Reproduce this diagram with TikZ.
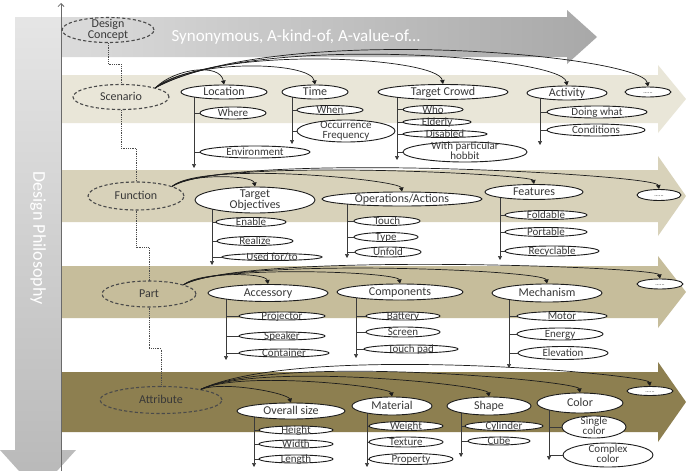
\documentclass[tikz,border=0pt]{standalone}
\usepackage{fontspec}
\setmainfont{Carlito}
\usetikzlibrary{shapes.geometric,arrows.meta}

\definecolor{scenc}{HTML}{E9E6D8}
\definecolor{funcc}{HTML}{D8D2BA}
\definecolor{partc}{HTML}{C6BD9B}
\definecolor{attrc}{HTML}{8D7F50}
\definecolor{dashgray}{HTML}{4A4A4A}
\definecolor{txtgray}{HTML}{383838}
\definecolor{ovline}{HTML}{1C1C1C}
\definecolor{trunkc}{HTML}{3A3A3A}
\definecolor{axisc}{HTML}{6A6A6A}

% zero-size label boxes so that ellipse sizes are set only by minimum width/height
\newcommand{\ovtxt}[1]{\makebox[0pt]{\raisebox{-0.32em}[0pt][0pt]{#1}}}
\newcommand{\ovtwo}[2]{\makebox[0pt]{\raisebox{-0.26em}[0pt][0pt]{\def\arraystretch{0.78}\begin{tabular}{@{}c@{}}#1\\#2\end{tabular}}}}

\pgfdeclarelayer{back}
\pgfdeclarelayer{wires}
\pgfsetlayers{back,wires,main}

\tikzset{
  wh/.style 2 args={minimum width=#1pt, minimum height=#2pt},
  concept/.style={ellipse, draw=dashgray, dash pattern=on 3.2pt off 2.2pt,
    line width=1.1pt, inner sep=0pt, text=txtgray, font=\fontsize{12}{12.5}\selectfont},
  oval/.style={ellipse, draw=ovline, fill=white, line width=0.9pt, inner sep=0pt,
    text=txtgray, font=\fontsize{12}{11.5}\selectfont},
  sub/.style={oval, font=\fontsize{11}{10.5}\selectfont},
  more/.style={oval, font=\fontsize{6}{6}\selectfont},
  link/.style={draw=ovline, line width=0.7pt, -{Triangle[length=4pt,width=4.5pt]}},
  trunk/.style={draw=trunkc, line width=0.6pt, -{Triangle[length=4pt,width=4pt]}},
  twig/.style={draw=trunkc, line width=0.6pt},
  chain/.style={draw=dashgray, densely dotted, line width=0.8pt},
}

\begin{document}
\begin{tikzpicture}[x=1pt,y=1pt]
\useasboundingbox (0,0) rectangle (686,-471);
\clip (0,0) rectangle (686,-471);

% ---------- background arrows ----------
\begin{pgfonlayer}{back}
  \fill[white] (0,0) rectangle (686,-471);
  % design philosophy (vertical)
  \shade[top color=black!10, bottom color=black!28]
    (15,-17) -- (61,-17) -- (61,-450) -- (76,-450) -- (38,-492) -- (0,-450) -- (15,-450) -- cycle;
  % relation arrow
  \shade[left color=black!14, right color=black!34]
    (61,-17) -- (567,-17) -- (567,-10) -- (597,-37) -- (567,-64) -- (567,-57) -- (61,-57) -- cycle;
  % layer bands
  \fill[scenc] (61,-75) -- (658,-75) -- (658,-65) -- (686,-99) -- (658,-133) -- (658,-123) -- (61,-123) -- cycle;
  \fill[funcc] (61,-170) -- (658,-170) -- (658,-156) -- (686,-196) -- (658,-236) -- (658,-222) -- (61,-222) -- cycle;
  \fill[partc] (61,-266) -- (658,-266) -- (658,-256) -- (686,-292) -- (658,-328) -- (658,-318) -- (61,-318) -- cycle;
  \fill[attrc] (61,-372) -- (658,-372) -- (658,-362) -- (686,-402) -- (658,-442) -- (658,-432) -- (61,-432) -- cycle;
\end{pgfonlayer}

\node[text=white, font=\fontsize{17}{17}\selectfont, anchor=west] (syn) at (168,-37) {Synonymous, A-kind-of, A-value-of...};
\node[text=white, rotate=-90, font=\fontsize{18}{18}\selectfont] (phil) at (38,-238) {Design Philosophy};

% axis
\coordinate (axbot) at (61,-471);
\coordinate (axtop) at (61,-3);
\draw[axisc, line width=0.8pt, -{Straight Barb[length=3pt,width=6pt]}] (axbot) -- (axtop);

% ---------- concept layers ----------
\node[concept, wh={92}{25}] (dc)   at (108,-30)  {\ovtwo{Design}{Concept}};
\node[concept, wh={96}{25}] (scen) at (121,-97)  {\ovtxt{Scenario}};
\node[concept, wh={96}{28}] (func) at (136,-196) {\ovtxt{Function}};
\node[concept, wh={94}{26}] (part) at (149,-294) {\ovtxt{Part}};
\node[concept, wh={122}{27}] (attr) at (161,-400) {\ovtxt{Attribute}};

\draw[chain] (dc.south)   -- ++(0,-21) -| (scen.north);
\draw[chain] (scen.south) -- ++(0,-38) -| (func.north);
\draw[chain] (func.south) -- ++(0,-37) -| (part.north);
\draw[chain] (part.south) -- ++(0,-41) -| (attr.north);

% ---------- scenario ----------
\node[oval, wh={86}{14}]  (loc)   at (224,-92)  {\ovtxt{Location}};
\node[sub,  wh={66}{12}]  (where) at (233,-113) {\ovtxt{Where}};
\node[sub,  wh={110}{12}] (env)   at (255,-152) {\ovtxt{Environment}};
\node[oval, wh={66}{14}]  (time)  at (315,-92)  {\ovtxt{Time}};
\node[sub,  wh={66}{9}]   (when)  at (330,-110) {\ovtxt{When}};
\node[sub,  wh={98}{22}]  (occ)   at (346,-131) {\ovtwo{Occurrence}{Frequency}};
\node[oval, wh={130}{15}] (crowd) at (443,-92)  {\ovtxt{Target Crowd}};
\node[sub,  wh={60}{8}]   (who)   at (433,-109.5) {\ovtxt{Who}};
\node[sub,  wh={68}{7}]   (eld)   at (437,-122) {\ovtxt{Elderly}};
\node[sub,  wh={84}{7}]   (dis)   at (445,-134) {\ovtxt{Disabled}};
\node[sub,  wh={124}{20}] (hob)   at (465,-152) {\ovtwo{With particular}{hobbit}};
\node[oval, wh={80}{14}]  (act)   at (567,-93)  {\ovtxt{Activity}};
\node[sub,  wh={100}{12}] (doing) at (597,-112) {\ovtxt{Doing what}};
\node[sub,  wh={98}{12}]  (cond)  at (596,-130) {\ovtxt{Conditions}};
\node[more, wh={46}{10}]  (smore) at (648,-92)  {\ovtxt{......}};

\coordinate (locE)   at (194,-168);
\coordinate (timeE)  at (292,-144);
\coordinate (crowdE) at (397,-160);
\coordinate (actE)   at (540,-145);
\begin{pgfonlayer}{wires}
  \draw[trunk] (loc.center -| locE) -- (locE);
  \draw[trunk] (time.center -| timeE) -- (timeE);
  \draw[trunk] (crowd.center -| crowdE) -- (crowdE);
  \draw[trunk] (act.center -| actE) -- (actE);
\end{pgfonlayer}
\draw[twig] (where.west -| locE) -- (where.west);
\draw[twig] (env.west -| locE) -- (env.west);
\draw[twig] (when.west -| timeE) -- (when.west);
\draw[twig] (occ.west -| timeE) -- (occ.west);
\draw[twig] (who.west -| crowdE) -- (who.west);
\draw[twig] (eld.west -| crowdE) -- (eld.west);
\draw[twig] (dis.west -| crowdE) -- (dis.west);
\draw[twig] (hob.west -| crowdE) -- (hob.west);
\draw[twig] (doing.west -| actE) -- (doing.west);
\draw[twig] (cond.west -| actE) -- (cond.west);

\draw[link] (scen.15) to[out=45, in=100, out distance=28pt, in distance=22pt] (loc.north);
\draw[link] (scen.15) to[out=40, in=100, out distance=45pt, in distance=24pt] (time.north);
\draw[link] (scen.15) to[out=35, in=100, out distance=75pt, in distance=28pt] (crowd.north);
\draw[link] (scen.15) to[out=30, in=100, out distance=110pt, in distance=30pt] (act.north);
\draw[link] (scen.15) to[out=28, in=100, out distance=140pt, in distance=32pt] (smore.north);

% ---------- function ----------
\node[oval, wh={120}{26}] (tobj) at (255,-200) {\ovtwo{Target}{Objectives}};
\node[sub,  wh={70}{9}]   (enab) at (251,-222) {\ovtxt{Enable}};
\node[sub,  wh={76}{9}]   (real) at (255,-241) {\ovtxt{Realize}};
\node[sub,  wh={100}{7}]  (used) at (272,-257) {\ovtxt{Used for/to}};
\node[oval, wh={160}{14}] (ops)  at (402,-199) {\ovtxt{Operations/Actions}};
\node[sub,  wh={66}{9}]   (touch) at (387,-221) {\ovtxt{Touch}};
\node[sub,  wh={64}{9}]   (type) at (386,-237) {\ovtxt{Type}};
\node[sub,  wh={66}{10}]  (unf)  at (388,-252) {\ovtxt{Unfold}};
\node[oval, wh={98}{15}]  (feat) at (534,-192) {\ovtxt{Features}};
\node[sub,  wh={82}{9}]   (fold) at (546,-215) {\ovtxt{Foldable}};
\node[sub,  wh={82}{9}]   (port) at (546,-232) {\ovtxt{Portable}};
\node[sub,  wh={94}{10}]  (recy) at (552,-251) {\ovtxt{Recyclable}};
\node[more, wh={44}{11}]  (fmore) at (659,-195) {\ovtxt{......}};

\coordinate (tobjE) at (212,-265);
\coordinate (opsE)  at (347,-258);
\coordinate (featE) at (500,-260);
\begin{pgfonlayer}{wires}
  \draw[trunk] (tobj.center -| tobjE) -- (tobjE);
  \draw[trunk] (ops.center -| opsE) -- (opsE);
  \draw[trunk] (feat.center -| featE) -- (featE);
\end{pgfonlayer}
\draw[twig] (enab.west -| tobjE) -- (enab.west);
\draw[twig] (real.west -| tobjE) -- (real.west);
\draw[twig] (used.west -| tobjE) -- (used.west);
\draw[twig] (touch.west -| opsE) -- (touch.west);
\draw[twig] (type.west -| opsE) -- (type.west);
\draw[twig] (unf.west -| opsE) -- (unf.west);
\draw[twig] (fold.west -| featE) -- (fold.west);
\draw[twig] (port.west -| featE) -- (port.west);
\draw[twig] (recy.west -| featE) -- (recy.west);

\draw[link] (func.15) to[out=40, in=100, out distance=20pt, in distance=12pt] (tobj.north);
\draw[link] (func.15) to[out=40, in=100, out distance=40pt, in distance=12pt] (ops.north);
\draw[link] (func.15) to[out=35, in=100, out distance=50pt, in distance=10pt] (feat.north);
\draw[link] (func.15) to[out=30, in=100, out distance=70pt, in distance=15pt] (fmore.north);

% ---------- part ----------
\node[oval, wh={120}{17}] (acc)  at (268,-293) {\ovtxt{Accessory}};
\node[sub,  wh={86}{8}]   (proj) at (282,-316) {\ovtxt{Projector}};
\node[sub,  wh={86}{8}]   (spk)  at (282,-336) {\ovtxt{Speaker}};
\node[sub,  wh={90}{8}]   (cont) at (284,-353) {\ovtxt{Container}};
\node[oval, wh={126}{16}] (comp) at (400,-292) {\ovtxt{Components}};
\node[sub,  wh={74}{8}]   (batt) at (403,-316) {\ovtxt{Battery}};
\node[sub,  wh={74}{10}]  (scr)  at (403,-332) {\ovtxt{Screen}};
\node[sub,  wh={94}{8}]   (tpad) at (411,-349) {\ovtxt{Touch pad}};
\node[oval, wh={110}{18}] (mech) at (547,-293) {\ovtxt{Mechanism}};
\node[sub,  wh={90}{9}]   (motor) at (562,-316) {\ovtxt{Motor}};
\node[sub,  wh={86}{12}]  (energy) at (560,-334) {\ovtxt{Energy}};
\node[sub,  wh={90}{13}]  (elev) at (563,-353) {\ovtxt{Elevation}};
\node[more, wh={46}{10}]  (pmore) at (660,-284) {\ovtxt{......}};

\coordinate (accE)  at (226,-360);
\coordinate (compE) at (356,-358);
\coordinate (mechE) at (509,-368);
\begin{pgfonlayer}{wires}
  \draw[trunk] (acc.center -| accE) -- (accE);
  \draw[trunk] (comp.center -| compE) -- (compE);
  \draw[trunk] (mech.center -| mechE) -- (mechE);
\end{pgfonlayer}
\draw[twig] (proj.west -| accE) -- (proj.west);
\draw[twig] (spk.west -| accE) -- (spk.west);
\draw[twig] (cont.west -| accE) -- (cont.west);
\draw[twig] (batt.west -| compE) -- (batt.west);
\draw[twig] (scr.west -| compE) -- (scr.west);
\draw[twig] (tpad.west -| compE) -- (tpad.west);
\draw[twig] (motor.west -| mechE) -- (motor.west);
\draw[twig] (energy.west -| mechE) -- (energy.west);
\draw[twig] (elev.west -| mechE) -- (elev.west);

\draw[link] (part.15) to[out=40, in=100, out distance=20pt, in distance=12pt] (acc.north);
\draw[link] (part.15) to[out=35, in=100, out distance=35pt, in distance=12pt] (comp.north);
\draw[link] (part.15) to[out=30, in=100, out distance=55pt, in distance=14pt] (mech.north);
\draw[link] (part.15) to[out=28, in=100, out distance=70pt, in distance=12pt] (pmore.north);

% ---------- attribute ----------
\node[oval, wh={108}{16}] (size) at (291,-411) {\ovtxt{Overall size}};
\node[sub,  wh={74}{8}]   (hgt)  at (296,-430) {\ovtxt{Height}};
\node[sub,  wh={74}{8}]   (wid)  at (296,-444) {\ovtxt{Width}};
\node[sub,  wh={74}{8}]   (len)  at (296,-459) {\ovtxt{Length}};
\node[oval, wh={80}{18}]  (mat)  at (392,-406) {\ovtxt{Material}};
\node[sub,  wh={74}{9}]   (wgt)  at (406,-426) {\ovtxt{Weight}};
\node[sub,  wh={74}{10}]  (tex)  at (406,-442) {\ovtxt{Texture}};
\node[sub,  wh={84}{11}]  (prop) at (411,-459) {\ovtxt{Property}};
\node[oval, wh={84}{18}]  (shp)  at (489,-406) {\ovtxt{Shape}};
\node[sub,  wh={78}{9}]   (cyl)  at (504,-426) {\ovtxt{Cylinder}};
\node[sub,  wh={62}{8}]   (cube) at (499,-441) {\ovtxt{Cube}};
\node[oval, wh={86}{20}]  (col)  at (580,-403) {\ovtxt{Color}};
\node[sub,  wh={64}{22}]  (single) at (594,-427) {\ovtwo{Single}{color}};
\node[sub,  wh={90}{24}]  (complex) at (608,-455) {\ovtwo{Complex}{color}};
\node[more, wh={46}{9}]   (amore) at (650,-391) {\ovtxt{......}};

\coordinate (sizeE) at (254,-467);
\coordinate (matE)  at (367,-467);
\coordinate (shpE)  at (461,-457);
\coordinate (colE)  at (549,-460);
\begin{pgfonlayer}{wires}
  \draw[trunk] (size.center -| sizeE) -- (sizeE);
  \draw[trunk] (mat.center -| matE) -- (matE);
  \draw[trunk] (shp.center -| shpE) -- (shpE);
  \draw[trunk] (col.center -| colE) -- (colE);
\end{pgfonlayer}
\draw[twig] (hgt.west -| sizeE) -- (hgt.west);
\draw[twig] (wid.west -| sizeE) -- (wid.west);
\draw[twig] (len.west -| sizeE) -- (len.west);
\draw[twig] (wgt.west -| matE) -- (wgt.west);
\draw[twig] (tex.west -| matE) -- (tex.west);
\draw[twig] (prop.west -| matE) -- (prop.west);
\draw[twig] (cyl.west -| shpE) -- (cyl.west);
\draw[twig] (cube.west -| shpE) -- (cube.west);
\draw[twig] (single.west -| colE) -- (single.west);
\draw[twig] (complex.west -| colE) -- (complex.west);

\draw[link] (attr.15) to[out=20, in=110, out distance=25pt, in distance=10pt] (size.north);
\draw[link] (attr.15) to[out=25, in=100, out distance=45pt, in distance=10pt] (mat.north);
\draw[link] (attr.15) to[out=25, in=100, out distance=65pt, in distance=12pt] (shp.north);
\draw[link] (attr.15) to[out=25, in=100, out distance=85pt, in distance=12pt] (col.north);
\draw[link] (attr.15) to[out=25, in=100, out distance=110pt, in distance=12pt] (amore.north);

\end{tikzpicture}
\end{document}
